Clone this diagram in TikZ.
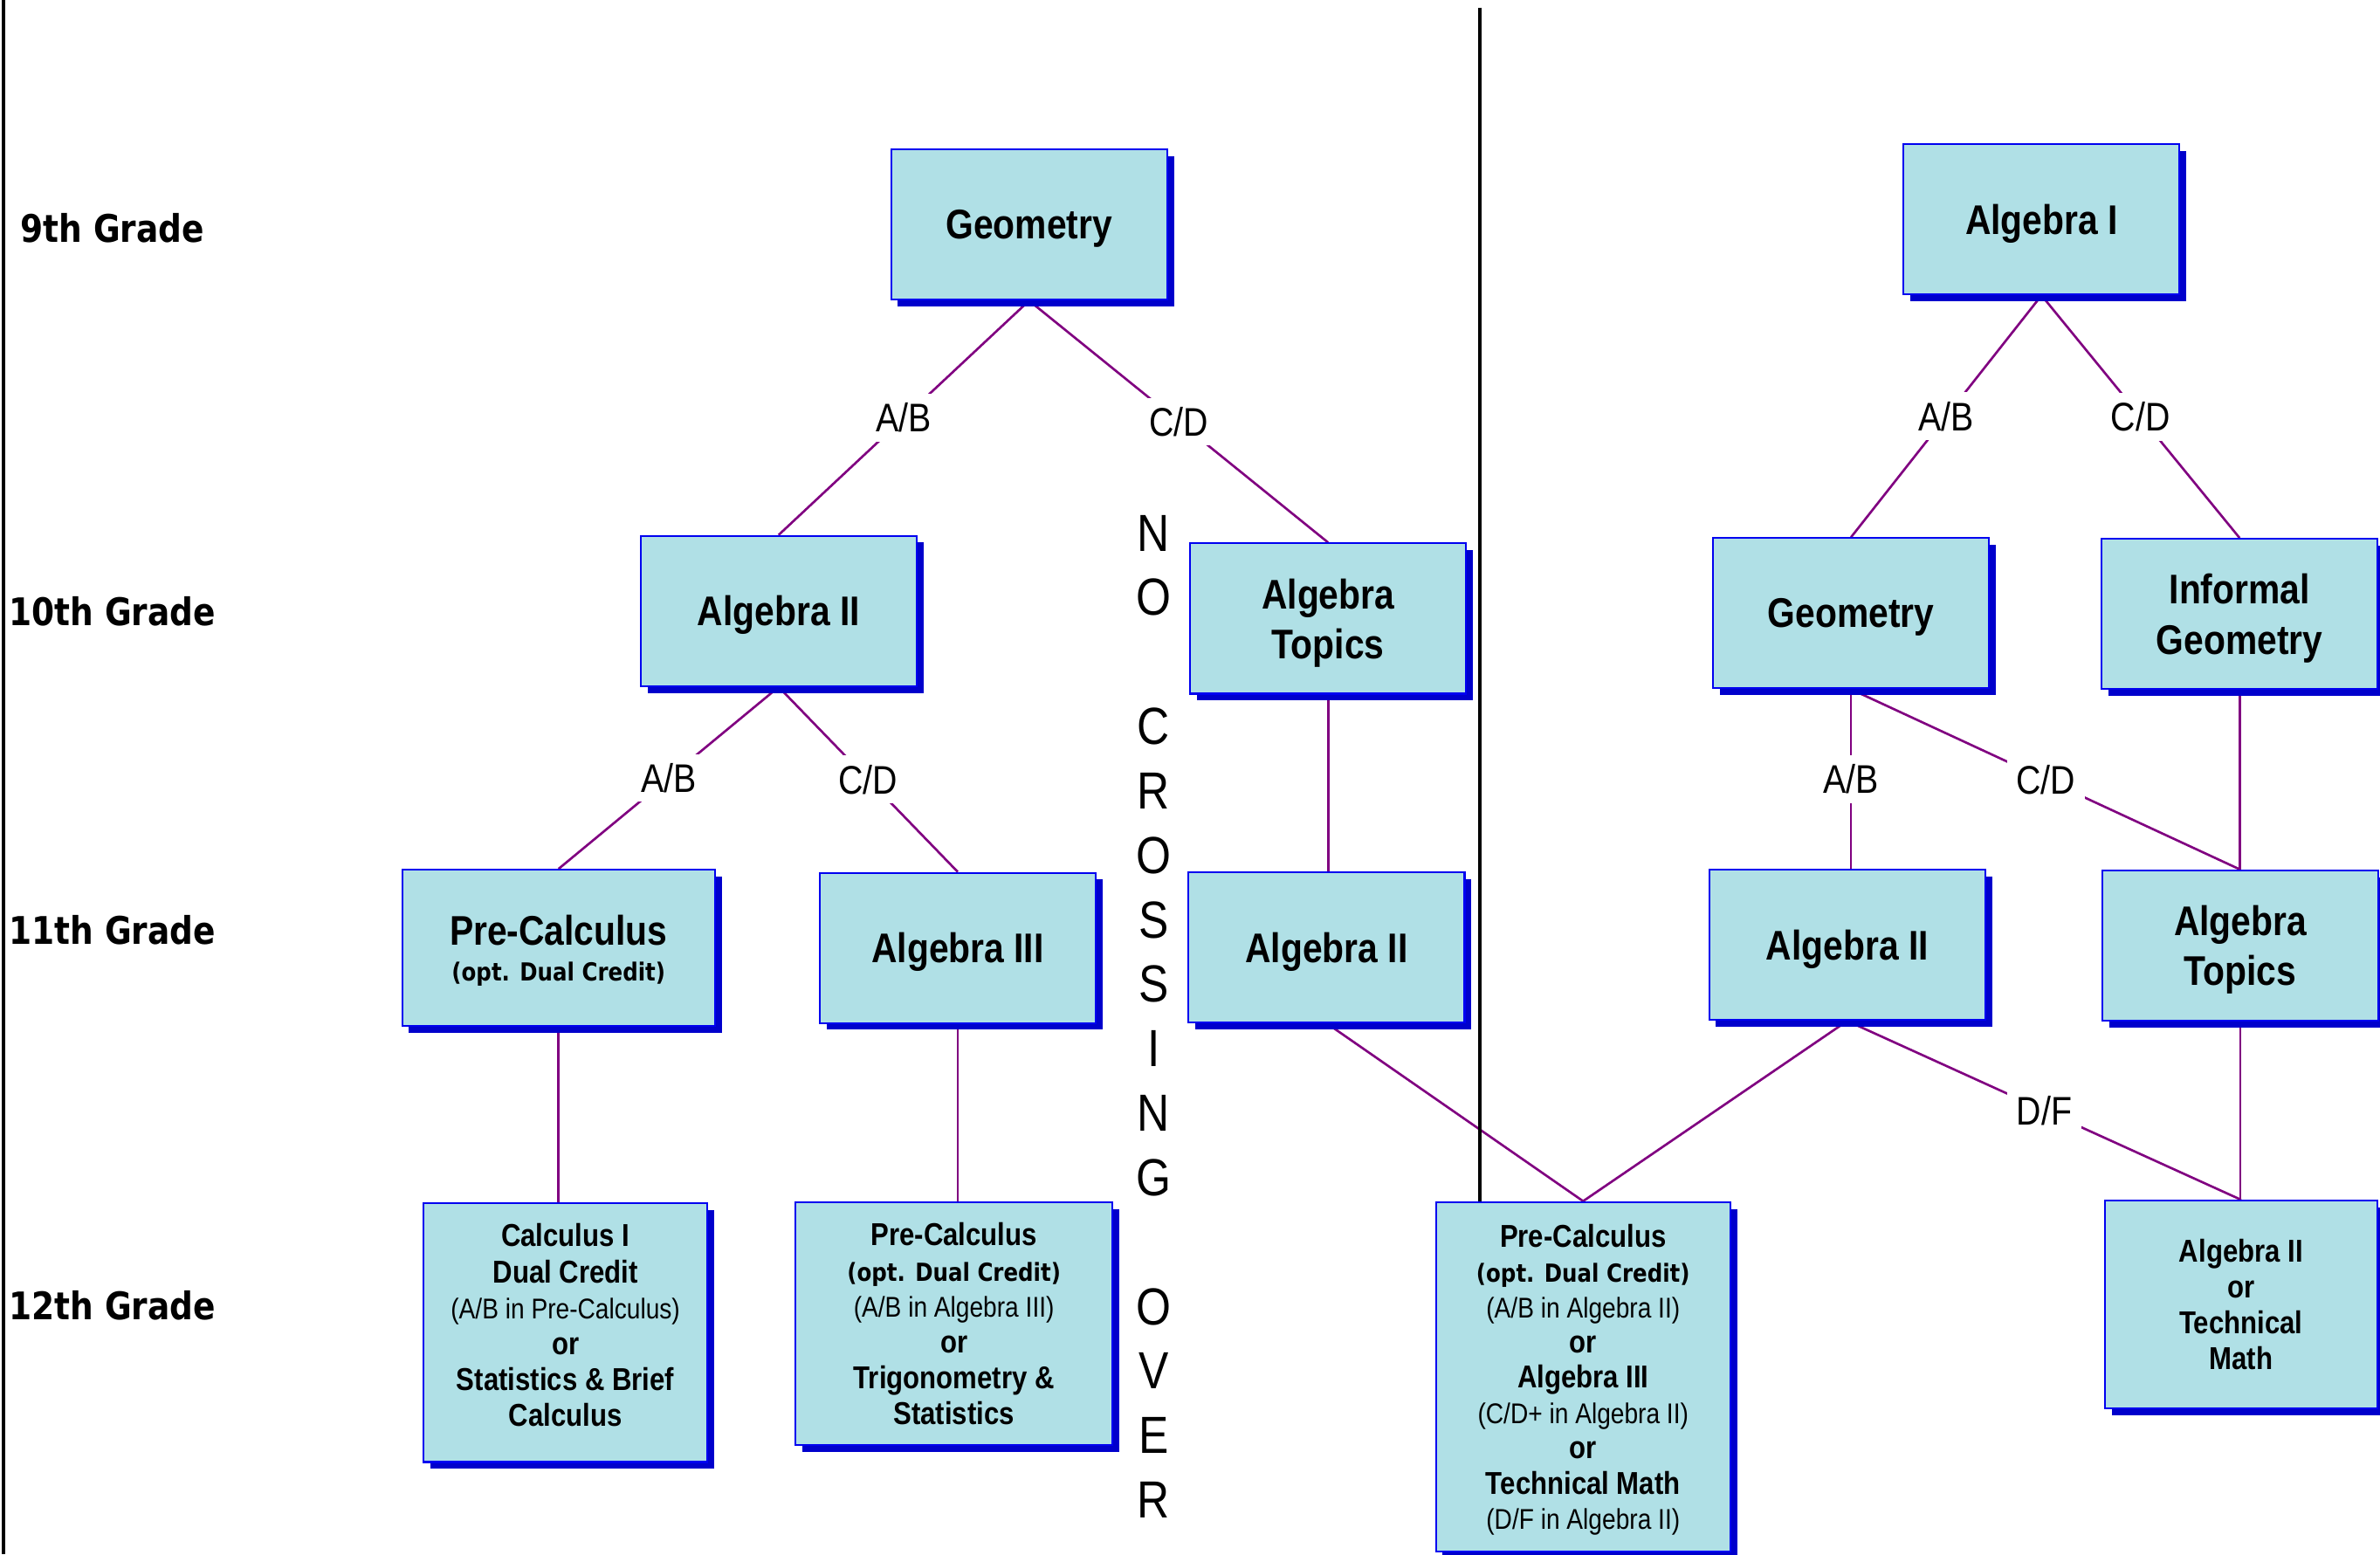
\documentclass[tikz,border=0pt]{standalone}
\usepackage{fontspec}
\setmainfont[FakeStretch=0.86]{Liberation Sans}
\newfontfamily\gradefont[FakeStretch=0.86]{DejaVu Sans}
\usepackage[dvipsnames]{xcolor}
\usepackage{tikz}
\usetikzlibrary{shadows,backgrounds}
\definecolor{boxfill}{RGB}{176,224,230}
\definecolor{boxline}{RGB}{0,0,240}
\definecolor{shadowblue}{RGB}{0,0,204}
\definecolor{linkpurple}{RGB}{128,0,128}

\begin{document}
\begin{tikzpicture}[x=0.017385cm,y=-0.017385cm,
  course/.style={draw=boxline,line width=0.6pt,fill=boxfill,align=center,inner sep=0pt,
    drop shadow={shadow xshift=2.2pt,shadow yshift=-2.2pt,fill=shadowblue,opacity=1},
    font=\bfseries\fontsize{13.5}{16.3}\selectfont},
  title/.style={course,text depth=-1pt},
  std/.style={title,minimum width=3.16cm,minimum height=1.72cm},
  fine/.style={course,font=\bfseries\fontsize{10.3}{11.7}\selectfont},
  grade/.style={font=\gradefont\bfseries\fontsize{12.4}{14}\selectfont},
  pick/.style={fill=white,inner sep=3pt,font=\fontsize{13}{15}\selectfont},
  link/.style={draw=linkpurple,line width=0.75pt},
  letter/.style={anchor=base,font=\fontsize{17}{20}\selectfont}]
\newcommand{\dualcr}{{\gradefont\bfseries\fontsize{8.1}{11.7}\selectfont(opt. Dual Credit)}}
\newcommand{\hint}[1]{{\mdseries\fontsize{9.3}{11.7}\selectfont(#1)}}
\useasboundingbox (0,0) rectangle (1568,1024);

% grades
\node[grade] (g9) at (74,150) {9th Grade};
\node[grade] (g10) at (74,403) {10th Grade};
\node[grade] (g11) at (74,613) {11th Grade};
\node[grade] (g12) at (74,860) {12th Grade};

% left track
\node[std] (geoL) at (678,148) {Geometry};
\node[std] (alg2L) at (513,402.5) {Algebra II};
\node[std] (topL) at (875,407.5) {Algebra\\Topics};
\node[title,minimum width=3.58cm,minimum height=1.79cm] (pcL) at (368,624.5) {Pre-Calculus\\[-4.5pt]\dualcr};
\node[std] (alg3L) at (631,624.5) {Algebra III};
\node[std] (alg2M) at (874,624) {Algebra II};
\node[fine,text depth=5pt,minimum width=3.25cm,minimum height=2.96cm] (calcL) at (372.5,878) {Calculus I\\Dual Credit\\\hint{A/B in Pre-Calculus}\\or\\Statistics \& Brief\\Calculus};
\node[fine,minimum width=3.63cm,minimum height=2.78cm] (pcM) at (628.5,872) {Pre-Calculus\\\dualcr\\\hint{A/B in Algebra III}\\or\\Trigonometry \&\\Statistics};
\node[fine,text depth=0pt,font=\bfseries\fontsize{10.3}{11.5}\selectfont,minimum width=3.37cm,minimum height=4.0cm] (pcR) at (1043,907) {Pre-Calculus\\\dualcr\\\hint{A/B in Algebra II}\\or\\Algebra III\\\hint{C/D+ in Algebra II}\\or\\Technical Math\\\hint{D/F in Algebra II}};

% right track
\node[std] (alg1R) at (1345,144.5) {Algebra I};
\node[std] (geoR) at (1219.5,404) {Geometry};
\node[std] (infR) at (1475.5,404.5) {Informal\\Geometry};
\node[std] (alg2R) at (1217,622.5) {Algebra II};
\node[std] (topR) at (1476,623) {Algebra\\Topics};
\node[fine,minimum width=3.12cm,minimum height=2.38cm] (finR) at (1476.5,859.5) {Algebra II\\or\\Technical\\Math};

% no crossing over
\foreach \ch/\i in {N/0,O/1,C/3,R/4,O/5,S/6,S/7,I/8,N/9,G/10,O/12,V/13,E/14,R/15}
  \node[letter] (nc\i) at (760,363+42.47*\i) {\ch};

\coordinate (divtop) at (975,5);
\draw[line width=1pt] (divtop) -- (divtop |- pcR.north);
\coordinate (edgetop) at (2.5,0);
\coordinate (edgebot) at (2.5,1024);
\draw[line width=1.1pt] (edgetop) -- (edgebot);

\begin{scope}[on background layer]
  \draw[link] (geoL.south) -- node[pick] (abL) {A/B} (alg2L.north);
  \draw[link] (geoL.south) -- node[pick] (cdL) {C/D} (topL.north);
  \draw[link] (alg2L.south) -- node[pick] (abL2) {A/B} (pcL.north);
  \draw[link] (alg2L.south) -- node[pick] (cdL2) {C/D} (alg3L.north);
  \draw[link] (topL.south) -- (topL.south |- alg2M.north);
  \draw[link] (pcL.south) -- (pcL.south |- calcL.north);
  \draw[link] (alg3L.south) -- (alg3L.south |- pcM.north);
  \draw[link] (alg2M.south) -- (pcR.north);
  \draw[link] (alg1R.south) -- node[pick] (abR) {A/B} (geoR.north);
  \draw[link] (alg1R.south) -- node[pick] (cdR) {C/D} (infR.north);
  \draw[link] (geoR.south) -- node[pick] (abR2) {A/B} (geoR.south |- alg2R.north);
  \draw[link] (geoR.south) -- node[pick] (cdR2) {C/D} (topR.north);
  \draw[link] (infR.south) -- (infR.south |- topR.north);
  \draw[link] (alg2R.south) -- (pcR.north);
  \draw[link] (alg2R.south) -- node[pick] (dfR) {D/F} (finR.north);
  \draw[link] (topR.south) -- (topR.south |- finR.north);
\end{scope}
\end{tikzpicture}
\end{document}
